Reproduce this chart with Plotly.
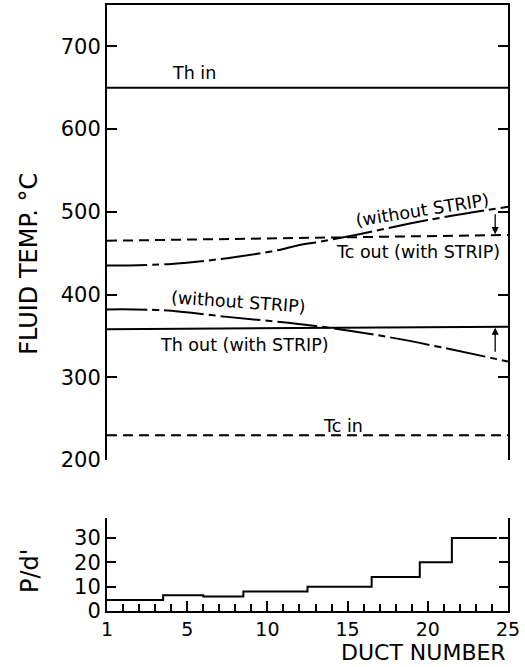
import plotly.graph_objects as go

# ---- data -------------------------------------------------------------
# duct position along the header (0 = first duct, 25 = last)
tick_pos = [0, 5, 10, 15, 20, 25]
tick_text = ["1", "5", "10", "15", "20", "25"]

# inlet temperatures (constant along the header)
th_in = 650
tc_in = 230

# outlet temperatures with the flow strip (end points)
with_x = [0, 25]
th_out_with = [358, 361]
tc_out_with = [465, 472]

# outlet temperatures without the strip
tc_wo_x = [0, 4, 7.5, 10.5, 12, 13, 15.5, 20, 25]
tc_out_without = [435, 437, 444, 453, 460, 463, 472, 490, 506]
th_wo_x = [0, 3.5, 7.5, 13, 18, 25]
th_out_without = [382, 381, 373, 362, 347, 319]

# strip pitch ratio P/d' per group of ducts
pd_edges = [0, 3.5, 6, 8.5, 12.5, 16.5, 19.5, 21.5, 24.3]
pd_values = [4.5, 6.5, 6, 8, 10, 14, 20, 30]

# correction arrows: (duct position, from, to)
arrows = [(24.2, 499, 473), (24.2, 329, 360)]

FONT = "DejaVu Sans"
INK = "black"

fig = go.Figure()

# top panel: fluid temperatures
fig.add_trace(go.Scatter(x=with_x, y=[th_in, th_in], mode="lines",
                         line=dict(color=INK, width=2), xaxis="x2", yaxis="y2"))
fig.add_trace(go.Scatter(x=with_x, y=[tc_in, tc_in], mode="lines",
                         line=dict(color=INK, width=2, dash="10px,6px"),
                         xaxis="x2", yaxis="y2"))
fig.add_trace(go.Scatter(x=with_x, y=th_out_with, mode="lines",
                         line=dict(color=INK, width=2), xaxis="x2", yaxis="y2"))
fig.add_trace(go.Scatter(x=with_x, y=tc_out_with, mode="lines",
                         line=dict(color=INK, width=2, dash="10px,6px"),
                         xaxis="x2", yaxis="y2"))
fig.add_trace(go.Scatter(x=tc_wo_x, y=tc_out_without, mode="lines",
                         line=dict(color=INK, width=2, shape="spline",
                                   dash="40px,5px,7px,5px"),
                         xaxis="x2", yaxis="y2"))
fig.add_trace(go.Scatter(x=th_wo_x, y=th_out_without, mode="lines",
                         line=dict(color=INK, width=2, shape="spline",
                                   dash="40px,5px,7px,5px"),
                         xaxis="x2", yaxis="y2"))

# bottom panel: P/d' step profile
fig.add_trace(go.Scatter(x=pd_edges, y=pd_values + [pd_values[-1]], mode="lines",
                         line=dict(color=INK, width=2, shape="hv"),
                         xaxis="x", yaxis="y"))

ann = []
# curve labels
labels = [
    ("Th in", 5.4, 668, 0),
    ("(without STRIP)", 19.7, 502, -9),
    ("Tc out (with STRIP)", 19.4, 451, 0),
    ("(without STRIP)", 8.2, 391, 4),
    ("Th out (with STRIP)", 8.6, 339, 0),
    ("Tc in", 14.7, 241, 0),
]
for text, x, y, ang in labels:
    ann.append(dict(text=text, x=x, y=y, xref="x2", yref="y2", showarrow=False,
                    textangle=ang, font=dict(family=FONT, size=17.5, color=INK)))

for x, y0, y1 in arrows:
    ann.append(dict(x=x, y=y1, ax=x, ay=y0, xref="x2", yref="y2",
                    axref="x2", ayref="y2", text="", showarrow=True,
                    arrowhead=2, arrowsize=1.1, arrowwidth=1.3, arrowcolor=INK))

# axis titles
ann.append(dict(text="FLUID TEMP. °C", xref="paper", yref="paper",
                x=-0.195, y=0.5726, xanchor="center", yanchor="middle",
                textangle=-90, showarrow=False,
                font=dict(family=FONT, size=24, color=INK)))
ann.append(dict(text="P/d'", xref="paper", yref="paper",
                x=-0.192, y=0.066, xanchor="center", yanchor="middle",
                textangle=-90, showarrow=False,
                font=dict(family=FONT, size=24, color=INK)))
ann.append(dict(text="DUCT NUMBER", xref="paper", yref="paper",
                x=1.0, y=-0.0921, xanchor="right", yanchor="bottom", showarrow=False,
                font=dict(family=FONT, size=22, color=INK)))

axis_common = dict(showgrid=False, zeroline=False, linecolor=INK, linewidth=2,
                   tickcolor=INK, tickwidth=1.5)

fig.update_layout(
    width=525, height=667,
    margin=dict(l=107, r=12, t=5, b=56),
    paper_bgcolor="white", plot_bgcolor="white",
    showlegend=False,
    annotations=ann,
    # bottom panel axes
    xaxis=dict(**axis_common, range=[0, 25], domain=[0, 1], anchor="y",
               showline=True, mirror=False, tickvals=tick_pos, ticktext=tick_text,
               ticks="inside", ticklen=10, ticklabeloverflow="allow",
               tickfont=dict(family=FONT, size=19, color=INK),
               minor=dict(dtick=1, tick0=0, ticks="inside", ticklen=7,
                          tickcolor=INK, tickwidth=1.5)),
    yaxis=dict(**axis_common, range=[0, 38.2], domain=[0, 0.1535], anchor="x",
               showline=True, mirror="ticks", tickvals=[0, 10, 20, 30],
               ticks="inside", ticklen=9,
               tickfont=dict(family=FONT, size=21, color=INK)),
    # top panel axes
    xaxis2=dict(**axis_common, range=[0, 25], domain=[0, 1], anchor="y2",
                side="top", showline=True, mirror=False, showticklabels=False,
                ticks=""),
    yaxis2=dict(**axis_common, range=[200, 750], domain=[0.2492, 1], anchor="x2",
                showline=True, mirror="ticks", tickvals=[200, 300, 400, 500, 600, 700],
                ticks="inside", ticklen=10,
                tickfont=dict(family=FONT, size=21, color=INK)),
)

fig.write_html("out.html")
